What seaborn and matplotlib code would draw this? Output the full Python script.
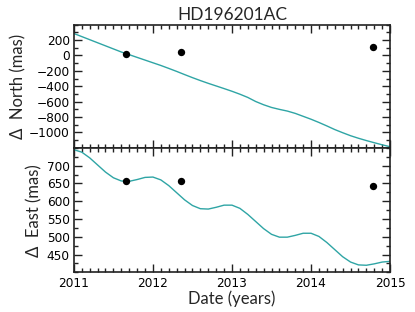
import matplotlib
matplotlib.use("Agg")
import matplotlib.pyplot as plt
import seaborn as sns
import pandas as pd
from matplotlib.ticker import MultipleLocator

# ---- data ----
years = [2011.0 + 0.1 * i for i in range(41)]
north_model = [285, 245, 205, 165, 125, 85, 45, 10, -25, -60,
               -95, -130, -168, -207, -248, -288, -326, -362, -396, -430,
               -465, -503, -545, -598, -640, -675, -700, -722, -752, -790,
               -828, -870, -915, -962, -1003, -1042, -1075, -1105, -1133, -1160,
               -1185]
east_model = [745, 738, 722, 702, 682, 666, 657, 656, 661, 667,
              668, 660, 644, 624, 604, 588, 579, 578, 583, 589,
              589, 580, 563, 543, 523, 507, 499, 499, 504, 510,
              510, 501, 484, 464, 444, 429, 421, 420, 424, 429,
              431]
obs_dates = [2011.66, 2012.35, 2014.78]
obs_north = [22, 45, 112]
obs_east = [656, 656, 643]

title = "HD196201AC"
north_ticks = [-1000, -800, -600, -400, -200, 0, 200]
east_ticks = [450, 500, 550, 600, 650, 700]
year_ticks = [2011, 2012, 2013, 2014, 2015]

model = pd.DataFrame({"year": years, "north": north_model, "east": east_model})
obs = pd.DataFrame({"year": obs_dates, "north": obs_north, "east": obs_east})

sns.set_style("ticks")
plt.rcParams["font.family"] = ["DejaVu Sans"]

teal = "#2fa5a5"
fig = plt.figure(figsize=(4.15, 3.12), dpi=100)
ax1 = fig.add_axes([0.178, 0.526, 0.762, 0.395])
ax2 = fig.add_axes([0.178, 0.127, 0.762, 0.399])

for ax, col, ticks, ylim, minor in [
    (ax1, "north", north_ticks, (-1200, 400), 100),
    (ax2, "east", east_ticks, (400, 750), 25),
]:
    sns.lineplot(data=model, x="year", y=col, ax=ax, color=teal, linewidth=1.0)
    sns.scatterplot(data=obs, x="year", y=col, ax=ax, color="black", s=28,
                    edgecolor="black", linewidth=0, zorder=5)
    ax.set_xlim(2011, 2015)
    ax.set_ylim(*ylim)
    ax.set_yticks(ticks)
    ax.yaxis.set_minor_locator(MultipleLocator(minor))
    ax.set_xticks(year_ticks)
    ax.xaxis.set_minor_locator(MultipleLocator(0.1))
    ax.tick_params(which="both", direction="in", top=True, right=True,
                   labelsize=8.7, width=1.0, color="#222222", labelcolor="black")
    ax.tick_params(which="major", length=6, pad=3)
    ax.tick_params(which="minor", length=3)
    for s in ax.spines.values():
        s.set_linewidth(1.2)
        s.set_color("#222222")
    ax.set_xlabel("")

ax1.tick_params(labelbottom=False)
ax2.set_xticklabels([str(y) for y in year_ticks])

lab_font = dict(fontsize=12, family=["Lato", "DejaVu Sans"])
ax1.set_ylabel("Δ  North (mas)", **lab_font)
ax2.set_ylabel("Δ  East (mas)", **lab_font)
ax1.yaxis.set_label_coords(-0.150, 0.5)
ax2.yaxis.set_label_coords(-0.100, 0.5)
ax2.set_xlabel("Date (years)", labelpad=1, **lab_font)
ax1.set_title(title, fontsize=12.5, family=["Lato", "DejaVu Sans"], pad=3)

fig.savefig("out.png", dpi=100)
